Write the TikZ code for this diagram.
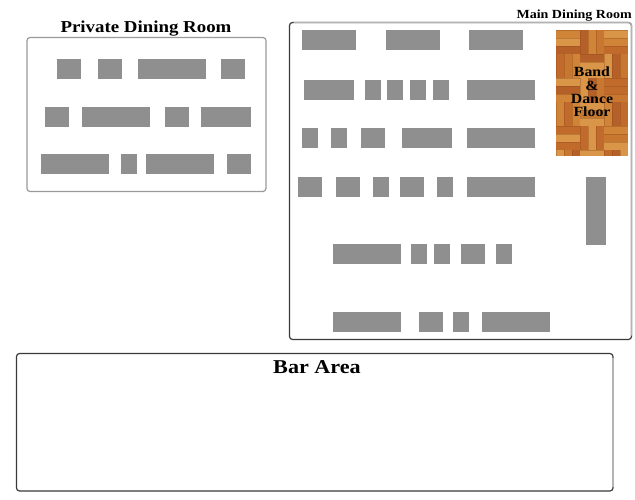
\documentclass[tikz,border=0pt]{standalone}
\usepackage{fontspec}
\newfontfamily\tf[FakeStretch=1.13]{Liberation Serif}
\definecolor{tablegray}{HTML}{8F8F8F}
\definecolor{darkedge}{HTML}{3A3A3A}
\definecolor{lightedge}{HTML}{B4B4B4}
\definecolor{privedge}{HTML}{9A9A9A}
\definecolor{wood1}{HTML}{C06A2C}
\definecolor{wood2}{HTML}{D08438}
\definecolor{wood3}{HTML}{C87730}
\definecolor{wood4}{HTML}{D99548}
\definecolor{wood5}{HTML}{B46028}
\definecolor{woodline}{HTML}{8A4518}
\tikzset{
  tbl/.style={rectangle, fill=tablegray, inner sep=0pt, outer sep=0pt},
  room/.style={rectangle, rounded corners=3pt, line width=1.2pt, inner sep=0pt, outer sep=0pt},
  lightborder/.style={draw=lightedge, line width=1.2pt, rounded corners=3pt},
  title/.style={inner sep=0pt, font=\tf\bfseries}
}
\newcommand\tbl[5]{\node[tbl,minimum width={(#4-#2)*1pt},minimum height={(#5-#3)*1pt}] (#1) at ({(#2+#4)/2},{(#3+#5)/2}) {};}
\begin{document}
\begin{tikzpicture}[x=1pt,y=-1pt]
\useasboundingbox (0,0) rectangle (635,500);
\fill[white] (0,0) rectangle (635,500);
% rooms
\node[room, draw=privedge, minimum width=239pt, minimum height=154pt] (private) at (146.5,114.5) {};
\node[room, draw=darkedge, minimum width=342pt, minimum height=317pt] (main) at (460.5,181) {};
\draw[lightborder] ([xshift=4pt]main.north west) -- (main.north east) -- ([yshift=4pt]main.south east);
\node[room, draw=darkedge, minimum width=596.5pt, minimum height=137.5pt] (bar) at (314.75,422.25) {};
\draw[lightborder] ([yshift=-4pt]bar.north east) -- ([yshift=4pt]bar.south east);
% titles
\node[title, anchor=base, font=\tf\bfseries\fontsize{16.7}{18}\selectfont] (privtitle) at (146,33) {Private Dining Room};
\node[title, anchor=base east, font=\tf\bfseries\fontsize{12.4}{14}\selectfont] (maintitle) at (632,18.5) {Main Dining Room};
\node[title, anchor=base, font=\tf\bfseries\fontsize{19.6}{22}\selectfont] (bartitle) at (317,373) {Bar Area};
% private tables
\tbl{p1}{57}{59}{81}{79}
\tbl{p2}{98}{59}{122}{79}
\tbl{p3}{138}{59}{206}{79}
\tbl{p4}{221}{59}{245}{79}
\tbl{p5}{45}{107}{69}{127}
\tbl{p6}{82}{107}{150}{127}
\tbl{p7}{165}{107}{189}{127}
\tbl{p8}{201}{107}{251}{127}
\tbl{p9}{41}{154}{109}{174}
\tbl{p10}{121}{154}{137}{174}
\tbl{p11}{146}{154}{214}{174}
\tbl{p12}{227}{154}{251}{174}
% main tables
\tbl{m1}{302}{30}{356}{50}
\tbl{m2}{386}{30}{440}{50}
\tbl{m3}{469}{30}{523}{50}
\tbl{m4}{304}{80}{354}{100}
\tbl{m5}{365}{80}{381}{100}
\tbl{m6}{387}{80}{403}{100}
\tbl{m7}{410}{80}{426}{100}
\tbl{m8}{433}{80}{449}{100}
\tbl{m9}{467}{80}{535}{100}
\tbl{m10}{302}{128}{318}{148}
\tbl{m11}{331}{128}{347}{148}
\tbl{m12}{361}{128}{385}{148}
\tbl{m13}{402}{128}{452}{148}
\tbl{m14}{467}{128}{535}{148}
\tbl{m15}{298}{177}{322}{197}
\tbl{m16}{336}{177}{360}{197}
\tbl{m17}{373}{177}{389}{197}
\tbl{m18}{400}{177}{424}{197}
\tbl{m19}{437}{177}{453}{197}
\tbl{m20}{467}{177}{535}{197}
\tbl{m21}{586}{177}{606}{245}
\tbl{m22}{333}{244}{401}{264}
\tbl{m23}{411}{244}{427}{264}
\tbl{m24}{434}{244}{450}{264}
\tbl{m25}{461}{244}{485}{264}
\tbl{m26}{496}{244}{512}{264}
\tbl{m27}{333}{312}{401}{332}
\tbl{m28}{419}{312}{443}{332}
\tbl{m29}{453}{312}{469}{332}
\tbl{m30}{482}{312}{550}{332}
% dance floor
\node[rectangle, fill=wood3, inner sep=0pt, outer sep=0pt, minimum width=72pt, minimum height=126pt] (floor) at (592,93) {};
\begin{scope}
\clip (556,30) rectangle (628,156);
\pgfmathsetseed{11}
\foreach \i in {0,1,2} {
  \foreach \j in {0,...,5} {
    \pgfmathtruncatemacro\pp{mod(\i+\j,2)}
    \foreach \k in {0,1,2} {
      \pgfmathtruncatemacro\cc{random(1,5)}
      \ifnum\pp=0
        \fill[wood\cc] ({556+24*\i},{30+24*\j+8*\k}) rectangle ++(24,8);
        \draw[woodline, line width=0.3pt, opacity=0.35] ({556+24*\i},{30+24*\j+8*\k}) -- ++(24,0);
      \else
        \fill[wood\cc] ({556+24*\i+8*\k},{30+24*\j}) rectangle ++(8,24);
        \draw[woodline, line width=0.3pt, opacity=0.35] ({556+24*\i+8*\k},{30+24*\j}) -- ++(0,24);
      \fi
    }
  }
}
\end{scope}
\node[inner sep=0pt, align=center, font=\tf\bfseries\fontsize{14}{13.2}\selectfont] (floortext) at (592,92) {Band\\\&\\Dance\\Floor};
\end{tikzpicture}
\end{document}
